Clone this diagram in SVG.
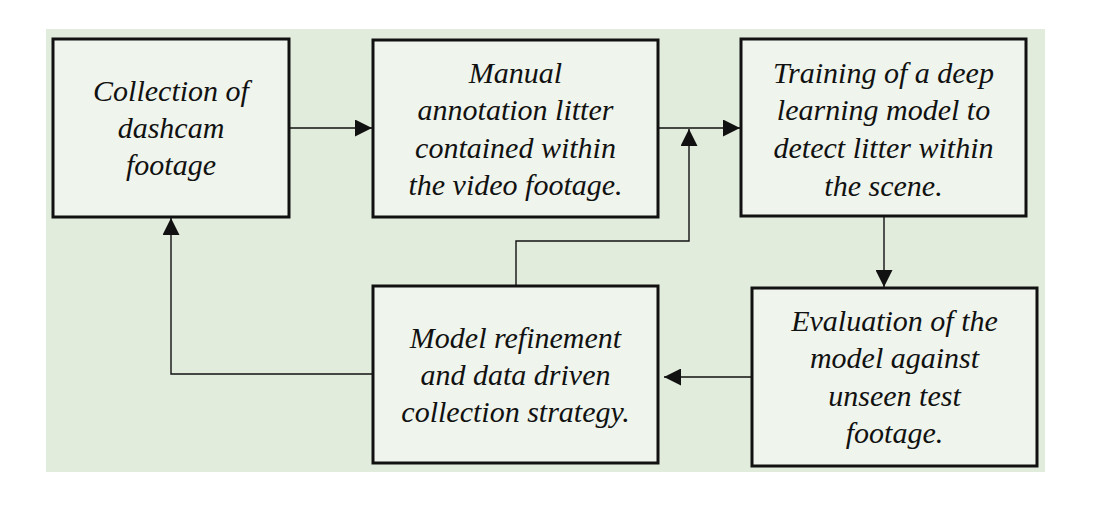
<svg xmlns="http://www.w3.org/2000/svg" width="1104" height="509" viewBox="0 0 1104 509">
<style>
.bg{fill:#e2ecdc;}
.box{fill:#eff4ec;stroke:#111;stroke-width:3;}
.lbl{font-family:"Liberation Serif","Times New Roman",serif;font-style:italic;font-size:30px;fill:#111;text-anchor:middle;}
.con{fill:none;stroke:#111;stroke-width:1.4;}
</style>
<defs>
<marker id="arr" markerUnits="userSpaceOnUse" markerWidth="17" markerHeight="17" refX="16" refY="8" orient="auto" viewBox="0 0 16 16">
<path d="M0,0 L16,8 L0,16 z" fill="#111"/>
</marker>
</defs>
<rect class="bg" x="46" y="29" width="999" height="443"/>
<g id="connectors">
<path class="con" d="M289,128 H372" marker-end="url(#arr)"/>
<path class="con" d="M658,128 H740" marker-end="url(#arr)"/>
<path class="con" d="M516,286 V241 H689 V129" marker-end="url(#arr)"/>
<path class="con" d="M884,217 V287" marker-end="url(#arr)"/>
<path class="con" d="M752,377 H664" marker-end="url(#arr)"/>
<path class="con" d="M373,374 H171 V218" marker-end="url(#arr)"/>
</g>
<g id="node1">
<rect class="box" x="53" y="39" width="236" height="178"/>
<text class="lbl" x="171" y="101">Collection of</text>
<text class="lbl" x="171" y="138">dashcam</text>
<text class="lbl" x="171" y="175">footage</text>
</g>
<g id="node2">
<rect class="box" x="373" y="40" width="285" height="177"/>
<text class="lbl" x="515.5" y="83">Manual</text>
<text class="lbl" x="515.5" y="120">annotation litter</text>
<text class="lbl" x="515.5" y="157.5">contained within</text>
<text class="lbl" x="515.5" y="195">the video footage.</text>
</g>
<g id="node3">
<rect class="box" x="741" y="39" width="285" height="177"/>
<text class="lbl" x="883.5" y="83">Training of a deep</text>
<text class="lbl" x="883.5" y="120">learning model to</text>
<text class="lbl" x="883.5" y="158">detect litter within</text>
<text class="lbl" x="883.5" y="195.5">the scene.</text>
</g>
<g id="node4">
<rect class="box" x="752" y="288" width="285" height="178"/>
<text class="lbl" x="894.5" y="331">Evaluation of the</text>
<text class="lbl" x="894.5" y="368">model against</text>
<text class="lbl" x="894.5" y="406">unseen test</text>
<text class="lbl" x="894.5" y="443">footage.</text>
</g>
<g id="node5">
<rect class="box" x="373" y="286" width="285" height="177"/>
<text class="lbl" x="515.5" y="347.5">Model refinement</text>
<text class="lbl" x="515.5" y="384.5">and data driven</text>
<text class="lbl" x="515.5" y="422">collection strategy.</text>
</g>
</svg>
